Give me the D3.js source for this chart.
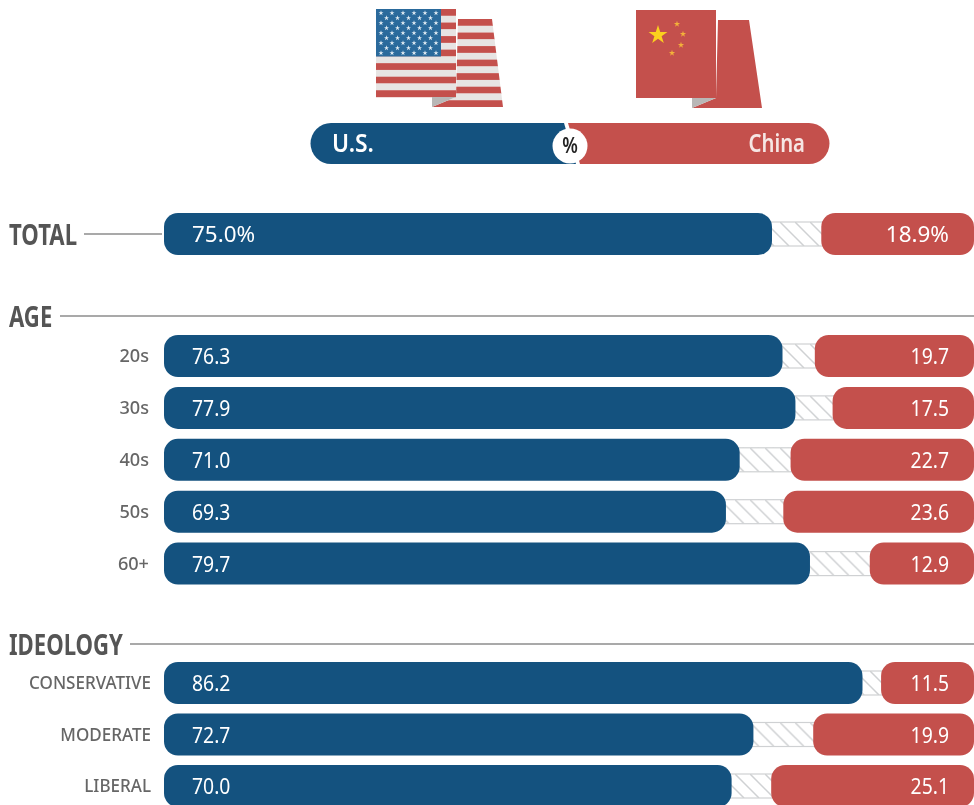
<!DOCTYPE html>
<html>
<head>
<meta charset="utf-8">
<script src="https://cdn.jsdelivr.net/npm/d3@7"></script>
<style>
  html, body { margin: 0; padding: 0; background: #fff; overflow: hidden; }
  svg { display: block; filter: blur(0.35px); }
  text { font-family: "Noto Sans", sans-serif; }
  .sekcija { font-size: 28px; font-weight: 700; fill: #555; }
  .oznaka { font-size: 18.5px; font-weight: 500; fill: #666; text-anchor: end; }
  .vrijednost { font-size: 22px; fill: #fff; }
</style>
</head>
<body>
<div id="okvir"></div>
<script>
  // 1. Podaci
  const totalLabels = ["TOTAL"]
  const totalUs = [75.0]
  const totalChina = [18.9]

  const ageLabels = ["20s", "30s", "40s", "50s", "60+"]
  const ageUs = [76.3, 77.9, 71.0, 69.3, 79.7]
  const ageChina = [19.7, 17.5, 22.7, 23.6, 12.9]

  const ideologyLabels = ["CONSERVATIVE", "MODERATE", "LIBERAL"]
  const ideologyUs = [86.2, 72.7, 70.0]
  const ideologyChina = [11.5, 19.9, 25.1]

  // 2. Dimenzije
  const plavo = "#14527f"
  const crveno = "#c4504c"
  const sirina = 974
  const visina = 805
  const visinaStupca = 42

  const okvir = d3.select("#okvir")
    .append("svg")
      .attr("width", sirina)
      .attr("height", visina)

  const defs = okvir.append("defs")
  const srafura = defs.append("pattern")
      .attr("id", "srafura")
      .attr("patternUnits", "userSpaceOnUse")
      .attr("width", 15)
      .attr("height", 24)
      .attr("y", 9)
  srafura.append("path")
      .attr("d", "M-15,0 L9,24 M0,0 L24,24 M-30,0 L-6,24")
      .attr("stroke", "#cfd1d3")
      .attr("stroke-width", 1.5)

  // sabija tekst po sirini jer uski font nije dostupan
  function stisni(sel, faktor) {
    sel.each(function() {
      d3.select(this)
        .attr("textLength", this.getComputedTextLength() * faktor)
        .attr("lengthAdjust", "spacingAndGlyphs")
    })
  }

  // 3. Razmjeri
  const xSkala = d3.scaleLinear()
    .domain([0, 100])
    .range([166, sirina])
  const lijeviRub = 164

  // 4. Crtanje redova
  function crtajRedove(labels, us, china, vrh, korak, sufiks, oznakaX, oznakaFaktor) {
    const redovi = labels.map((label, i) => ({ label, us: us[i], china: china[i], i }))
    const ySkala = i => vrh + i * korak
    const faktor = sufiks ? 1.02 : 0.88

    const red = okvir.append("g").selectAll("g")
      .data(redovi)
      .enter().append("g")
        .attr("transform", d => `translate(0, ${ySkala(d.i)})`)

    red.append("rect")
        .attr("x", d => xSkala(d.us) - 14)
        .attr("y", 9)
        .attr("width", d => xSkala(100 - d.china) - xSkala(d.us) + 28)
        .attr("height", 24)
        .attr("fill", "url(#srafura)")
        .attr("stroke", "#cfd1d3")
        .attr("stroke-width", 1.2)

    red.append("rect")
        .attr("x", lijeviRub)
        .attr("width", d => xSkala(d.us) - lijeviRub)
        .attr("height", visinaStupca)
        .attr("rx", 14)
        .attr("fill", plavo)

    red.append("rect")
        .attr("x", d => xSkala(100 - d.china))
        .attr("width", d => xSkala(100) - xSkala(100 - d.china))
        .attr("height", visinaStupca)
        .attr("rx", 14)
        .attr("fill", crveno)

    red.append("text")
        .attr("class", "vrijednost")
        .attr("x", 192)
        .attr("y", visinaStupca / 2 + 8)
        .text(d => d.us.toFixed(1) + sufiks)
        .call(stisni, faktor)

    red.append("text")
        .attr("class", "vrijednost")
        .attr("x", 949)
        .attr("y", visinaStupca / 2 + 8)
        .attr("text-anchor", "end")
        .text(d => d.china.toFixed(1) + sufiks)
        .call(stisni, faktor)

    if (oznakaX) {
      red.append("text")
          .attr("class", "oznaka")
          .attr("x", oznakaX)
          .attr("y", visinaStupca / 2 + 6)
          .text(d => d.label)
          .call(stisni, oznakaFaktor)
    }
  }

  crtajRedove(totalLabels, totalUs, totalChina, 213, 0, "%")
  crtajRedove(ageLabels, ageUs, ageChina, 335, 51.9, "", 149, 0.98)
  crtajRedove(ideologyLabels, ideologyUs, ideologyChina, 662, 51.5, "", 151, 0.92)

  // 5. Naslovi sekcija
  const sekcije = okvir.append("g")
  const crtajSekciju = (tekst, y, x1, x2) => {
    sekcije.append("text")
        .attr("class", "sekcija")
        .attr("x", 9)
        .attr("y", y + 11)
        .text(tekst)
        .call(stisni, 0.79)
    sekcije.append("line")
        .attr("x1", x1)
        .attr("x2", x2)
        .attr("y1", y)
        .attr("y2", y)
        .attr("stroke", "#555")
        .attr("stroke-width", 1.1)
  }
  crtajSekciju("TOTAL", 234, 84, 162)
  crtajSekciju("AGE", 316, 60, sirina)
  crtajSekciju("IDEOLOGY", 644, 130, sirina)

  // 6. Legenda
  const legenda = okvir.append("g")
  legenda.append("path")
      .attr("d", "M331,123 H564 L576,164 H331 A20.5,20.5 0 0 1 331,123 Z")
      .attr("fill", plavo)
  legenda.append("path")
      .attr("d", "M568,123 H809 A20.5,20.5 0 0 1 809,164 H580 Z")
      .attr("fill", crveno)
  legenda.append("circle")
      .attr("cx", 570)
      .attr("cy", 146)
      .attr("r", 17.5)
      .attr("fill", "#fff")
  legenda.append("text")
      .attr("x", 570)
      .attr("y", 153)
      .attr("text-anchor", "middle")
      .attr("font-size", 21)
      .attr("font-weight", "600")
      .attr("fill", "#222")
      .text("%")
      .call(stisni, 0.85)
  legenda.append("text")
      .attr("x", 332)
      .attr("y", 152)
      .attr("font-size", 26)
      .attr("font-weight", "600")
      .attr("fill", "#fff")
      .text("U.S.")
      .call(stisni, 0.88)
  legenda.append("text")
      .attr("x", 805)
      .attr("y", 152)
      .attr("text-anchor", "end")
      .attr("font-size", 26)
      .attr("font-weight", "600")
      .attr("fill", "#f6e6e4")
      .text("China")
      .call(stisni, 0.78)

  // 7. Zastave
  const zvijezda = d3.symbol().type(d3.symbolStar)
  const amerika = okvir.append("g")

  defs.append("clipPath").attr("id", "straznja")
    .append("path").attr("d", "M458,19 H492 L503,107 H432 L456,97 Z")

  const pruge = d3.range(13)
  const visinaPruge = 88 / 13
  amerika.append("g").attr("clip-path", "url(#straznja)")
    .selectAll("rect").data(d3.range(14)).enter().append("rect")
      .attr("x", 430)
      .attr("y", d => 19 + d * visinaPruge)
      .attr("width", 80)
      .attr("height", visinaPruge + 0.2)
      .attr("fill", d => d % 2 ? "#e7e4e3" : crveno)

  amerika.selectAll(".pruga").data(pruge).enter().append("rect")
      .attr("class", "pruga")
      .attr("x", 376)
      .attr("y", d => 9 + d * visinaPruge)
      .attr("width", 80)
      .attr("height", visinaPruge + 0.2)
      .attr("fill", d => d % 2 ? "#e7e4e3" : crveno)

  amerika.append("rect")
      .attr("x", 376)
      .attr("y", 9)
      .attr("width", 65)
      .attr("height", 47.5)
      .attr("fill", "#2a6a9c")

  const zvijezde = d3.range(9).flatMap(r => d3.range(r % 2 ? 5 : 6).map(k => ({ r, k })))
  amerika.selectAll(".z").data(zvijezde).enter().append("path")
      .attr("class", "z")
      .attr("d", zvijezda.size(8))
      .attr("fill", "#dfeaf2")
      .attr("transform", d => `translate(${381 + d.k * 11 + (d.r % 2 ? 5.5 : 0)}, ${13 + d.r * 5})`)

  amerika.append("path")
      .attr("d", "M432,97 H456 L432,107 Z")
      .attr("fill", "#b9b7b6")

  const kina = okvir.append("g")
  kina.append("path")
      .attr("d", "M718,20 H749 L762,108 H692 L716,98 Z")
      .attr("fill", crveno)
  kina.append("rect")
      .attr("x", 636)
      .attr("y", 10)
      .attr("width", 80)
      .attr("height", 88)
      .attr("fill", crveno)
  kina.append("path")
      .attr("d", "M692,98 H716 L692,108 Z")
      .attr("fill", "#b9b7b6")
  kina.append("path")
      .attr("d", d3.symbol().type(d3.symbolStar).size(110))
      .attr("fill", "#fbd01e")
      .attr("transform", "translate(658, 35)")
  const maleZvijezde = [[677, 24], [683, 34], [681, 45], [672, 53]]
  kina.selectAll(".mala").data(maleZvijezde).enter().append("path")
      .attr("class", "mala")
      .attr("d", zvijezda.size(12))
      .attr("fill", "#f3b13a")
      .attr("transform", d => `translate(${d[0]}, ${d[1]})`)
</script>
</body>
</html>
